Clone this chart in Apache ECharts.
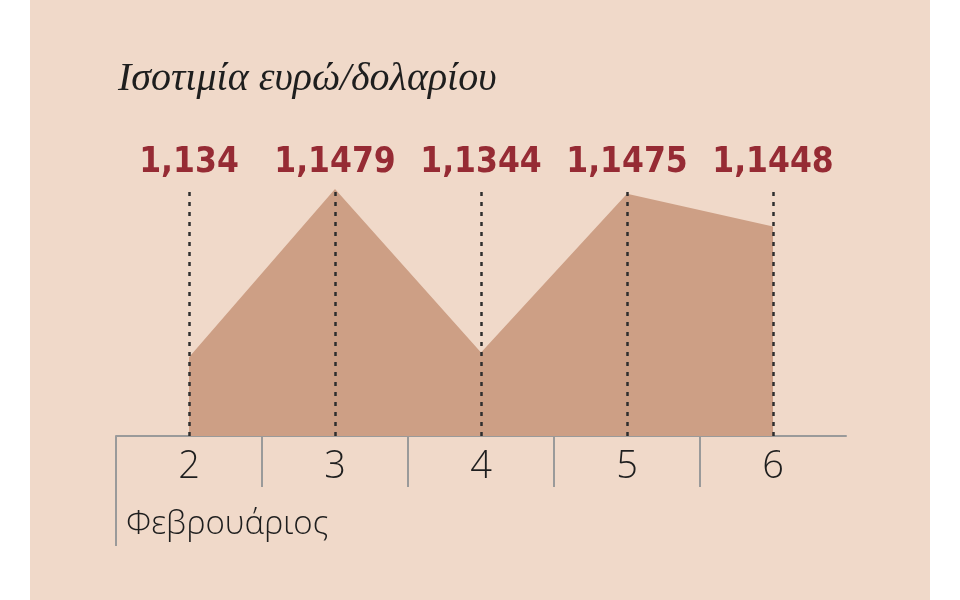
<!DOCTYPE html>
<html>
<head>
<meta charset="utf-8">
<script src="https://cdn.jsdelivr.net/npm/echarts@6/dist/echarts.min.js"></script>
<style>
html,body{margin:0;padding:0;background:#ffffff;}
#chart{width:960px;height:600px;}
</style>
</head>
<body>
<div id="chart"></div>
<script>
const categories = ['2', '3', '4', '5', '6'];
const rates = [1.134, 1.1479, 1.1344, 1.1475, 1.1448];
const titleText = 'Ισοτιμία ευρώ/δολαρίου';
const monthLabel = 'Φεβρουάριος';

const fmt = v => String(v).replace('.', ',');

const chart = echarts.init(document.getElementById('chart'), null, {renderer: 'canvas'});

const option = {
  animation: false,
  backgroundColor: '#ffffff',
  title: {
    text: titleText,
    left: 113,
    top: 54,
    textStyle: {
      fontFamily: 'Liberation Serif',
      fontStyle: 'italic',
      fontWeight: 'normal',
      fontSize: 40,
      color: '#1e1e1e'
    }
  },
  grid: {left: 116, right: 114, top: 189, bottom: 164},
  xAxis: [
    {
      type: 'category',
      data: categories,
      boundaryGap: true,
      axisLine: {show: true, lineStyle: {color: '#9a9a9a', width: 2}},
      axisTick: {show: false},
      axisLabel: {
        interval: 0,
        margin: 12,
        fontFamily: 'Open Sans',
        fontWeight: 300,
        fontSize: 38,
        color: '#1e1e1e'
      },
      splitLine: {show: false}
    },
    {
      type: 'category',
      data: categories,
      position: 'top',
      boundaryGap: true,
      axisLine: {show: false},
      axisTick: {show: false},
      axisLabel: {
        interval: 0,
        hideOverlap: false,
        margin: 9,
        fontFamily: '"DejaVu Sans Condensed", Roboto, sans-serif',
        fontWeight: 'bold',
        fontSize: 35,
        color: '#962b34',
        formatter: (v, i) => fmt(rates[i])
      }
    }
  ],
  yAxis: {
    type: 'value',
    min: 1.1275,
    max: 1.1479,
    show: false,
    splitLine: {show: false}
  },
  graphic: [
    {type: 'rect', z: -100, shape: {x: 30, y: 0, width: 900, height: 600}, style: {fill: '#f0d9c9'}, silent: true}
  ],
  series: [
    {
      type: 'line',
      data: rates,
      symbol: 'none',
      lineStyle: {width: 0},
      areaStyle: {color: '#cd9f85', opacity: 1},
      z: 2,
      markLine: {
        silent: true,
        symbol: 'none',
        label: {show: false},
        lineStyle: {color: '#2e2e2e', width: 2.5, type: [4, 6]},
        data: categories.map(c => ({xAxis: c}))
      }
    }
  ]
};
chart.setOption(option);

// separators between the category bands, positioned via the axis scale
const px = categories.map(c => chart.convertToPixel({xAxisIndex: 0}, c));
const band = px[1] - px[0];
const yBase = chart.convertToPixel({yAxisIndex: 0}, 1.1275);
const extra = [];
extra.push({type: 'line', z: 10, shape: {x1: px[0] - band / 2, y1: yBase, x2: px[0] - band / 2, y2: yBase + 110}, style: {stroke: '#9a9a9a', lineWidth: 2}});
for (let i = 1; i < categories.length; i++) {
  const x = (px[i - 1] + px[i]) / 2;
  extra.push({type: 'line', z: 10, shape: {x1: x, y1: yBase, x2: x, y2: yBase + 51}, style: {stroke: '#9a9a9a', lineWidth: 2}});
}
extra.push({type: 'text', z: 10, style: {text: monthLabel, x: px[0] - band / 2 + 10, y: yBase + 89, textVerticalAlign: 'middle', font: '300 33px "Open Sans"', fill: '#1e1e1e'}});
chart.setOption({graphic: option.graphic.concat(extra)});
</script>
</body>
</html>
